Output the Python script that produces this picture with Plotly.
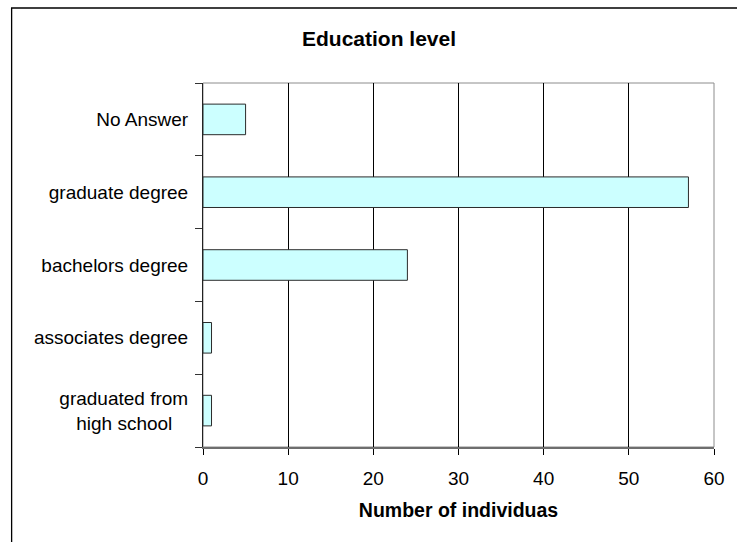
import plotly.graph_objects as go

categories = ["graduated from high school", "associates degree", "bachelors degree",
              "graduate degree", "No Answer"]
tick_text = ["graduated from<br>high school\u00a0\u00a0\u00a0", "associates degree",
             "bachelors degree", "graduate degree", "No Answer"]
counts = [1, 1, 24, 57, 5]
x_ticks = [0, 10, 20, 30, 40, 50, 60]

W, H = 737, 542
L, R, T, B = 203, 16, 83, 95
pw, ph = W - L - R, H - T - B

FONT = "Arial, Liberation Sans, sans-serif"

fig = go.Figure(go.Bar(
    y=categories, x=counts, orientation="h",
    marker=dict(color="#CCFFFF", line=dict(color="#2b2b2b", width=1)),
    hoverinfo="x+y",
))

fig.update_layout(
    width=W, height=H,
    margin=dict(l=L, r=R, t=T, b=B, pad=0),
    paper_bgcolor="white", plot_bgcolor="white",
    bargap=0.58,
    showlegend=False,
    font=dict(family=FONT, size=19, color="black"),
    title=dict(text="<b>Education level</b>", font=dict(size=21, family=FONT, color="black"),
               x=379 / W, xref="container", xanchor="center",
               y=1 - 39 / H, yref="container", yanchor="middle"),
    xaxis=dict(
        range=[0, 60], tickvals=x_ticks, ticktext=[str(v) for v in x_ticks],
        showgrid=True, gridcolor="black", gridwidth=1,
        showline=True, linecolor="#6e6e6e", linewidth=2,
        ticks="outside", ticklen=6, tickcolor="black", tickwidth=1,
        tickfont=dict(size=19, family=FONT, color="black"),
        ticklabelstandoff=7,
        zeroline=False,
        title=dict(text="<b>Number of individuas</b>", standoff=16,
                   font=dict(size=19.5, family=FONT, color="black")),
        fixedrange=True,
    ),
    yaxis=dict(
        categoryorder="array", categoryarray=categories,
        tickmode="array", tickvals=categories, ticktext=tick_text,
        tickson="boundaries", ticks="outside", ticklen=7, tickcolor="#333333", tickwidth=1,
        showline=True, linecolor="#222222", linewidth=1,
        showgrid=False, zeroline=False,
        tickfont=dict(size=19, family=FONT, color="black"),
        ticklabelstandoff=10,
        fixedrange=True,
    ),
    shapes=[
        # plot area border (top / right)
        dict(type="rect", xref="paper", yref="paper", x0=0, x1=1, y0=0, y1=1,
             line=dict(color="#8c8c8c", width=1), layer="below"),
        # outer chart border
        dict(type="rect", xref="paper", yref="paper",
             x0=(9 - L) / pw, x1=(W + 20 - L) / pw,
             y0=-(B + 20) / ph, y1=1 + (T - 8) / ph,
             line=dict(color="black", width=1.3)),
    ],
)

fig.write_html("out.html")
